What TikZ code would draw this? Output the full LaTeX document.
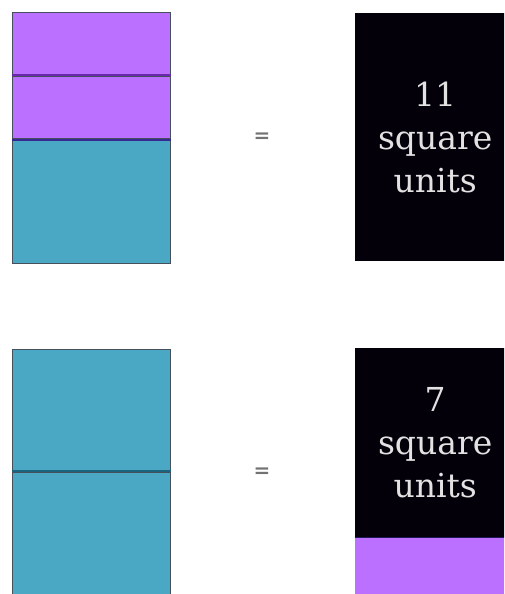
\documentclass[tikz,border=0pt]{standalone}
\usepackage{fontspec}
\setmainfont{DejaVu Serif}
\usetikzlibrary{positioning}
\definecolor{barpurple}{RGB}{188,112,255}
\definecolor{barteal}{RGB}{74,168,196}
\definecolor{boxblack}{RGB}{3,0,10}
\definecolor{labelgray}{RGB}{226,226,226}
\definecolor{edgegray}{RGB}{70,80,90}
\definecolor{divpurple}{RGB}{105,40,175}
\definecolor{divblue}{RGB}{55,40,145}
\definecolor{divteal}{RGB}{28,100,125}
\tikzset{
  piece/.style={draw=edgegray, line width=1.3pt, minimum width=158pt, inner sep=0pt, anchor=north west},
  purplepiece/.style={piece, fill=barpurple},
  tealpiece/.style={piece, fill=barteal},
  areabox/.style={fill=boxblack, minimum width=160pt, inner sep=0pt, anchor=north west,
    text=labelgray, align=center, font=\fontsize{33}{43}\selectfont},
  eqsign/.style={text=black!55, font=\bfseries\fontsize{20}{20}\selectfont},
  divline/.style={line width=2pt}
}
\begin{document}
\begin{tikzpicture}[x=1pt, y=-1pt]
    \clip (0,0) rectangle (504,594);
    \fill[white] (0,0) rectangle (504,594);

    % Erste Reihe: zwei lila Teile und ein blaues Teil
    \node[purplepiece, minimum height=62pt] (topA) at (12,12) {};
    \node[purplepiece, minimum height=63pt, below=0pt of topA.south west, anchor=north west] (topB) {};
    \node[tealpiece, minimum height=123pt, below=0pt of topB.south west, anchor=north west] (topC) {};
    \draw[divline, draw=divpurple] (topA.south west) -- (topA.south east);
    \draw[divline, draw=divblue] (topB.south west) -- (topB.south east);

    \node[eqsign] (eqTop) at (262,138) {=};

    \node[areabox, minimum height=248pt] (sumTop) at (355,13) {11\\square\\units};

    % Zweite Reihe: zwei blaue Teile
    \node[tealpiece, minimum height=121pt] (botA) at (12,349) {};
    \node[tealpiece, minimum height=140pt, below=0pt of botA.south west, anchor=north west] (botB) {};
    \draw[divline, draw=divteal] (botA.south west) -- (botA.south east);

    \node[eqsign] (eqBot) at (262,473) {=};

    \node[areabox, minimum height=189pt] (sumBot) at (355,348) {7\\square\\units};
    \node[fill=barpurple, minimum width=160pt, minimum height=70pt, inner sep=0pt,
          below=0pt of sumBot.south west, anchor=north west] (restBot) {};
    \draw[line width=1.2pt, draw=divblue!60!black] (sumBot.south west) -- (sumBot.south east);
\end{tikzpicture}
\end{document}
